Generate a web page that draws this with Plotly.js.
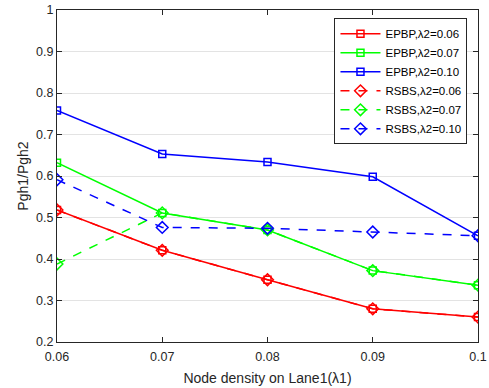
<!DOCTYPE html>
<html><head><meta charset="utf-8">
<script src="https://cdn.plot.ly/plotly-3.0.1.min.js"></script>
<style>html,body{margin:0;padding:0;background:#fff}#c{width:489px;height:388px}</style>
</head><body><div id="c"></div>
<script>
const xVals = [0.06, 0.07, 0.08, 0.09, 0.10];
const epbp006 = [0.518, 0.421, 0.350, 0.280, 0.260];
const epbp007 = [0.632, 0.511, 0.470, 0.372, 0.337];
const epbp010 = [0.758, 0.653, 0.634, 0.598, 0.456];
const rsbs006 = [0.518, 0.421, 0.350, 0.280, 0.260];
const rsbs007 = [0.388, 0.511, 0.470, 0.372, 0.337];
const rsbs010 = [0.591, 0.476, 0.474, 0.465, 0.456];
const names = ['EPBP,\u03bb2=0.06','EPBP,\u03bb2=0.07','EPBP,\u03bb2=0.10','RSBS,\u03bb2=0.06','RSBS,\u03bb2=0.07','RSBS,\u03bb2=0.10'];
const xTicks = [0.06, 0.07, 0.08, 0.09, 0.1];
const xTickText = ['0.06','0.07','0.08','0.09','0.1'];
const yTicks = [0.2,0.3,0.4,0.5,0.6,0.7,0.8,0.9,1];
const yTickText = ['0.2','0.3','0.4','0.5','0.6','0.7','0.8','0.9','1'];

const cols = ['#ff0000','#00ff00','#0000ff'];
const series = [epbp006, epbp007, epbp010, rsbs006, rsbs007, rsbs010];
const traces = series.map((y,i)=>({
  x: xVals, y: y, name: names[i], type:'scatter', mode:'lines+markers',
  line:{color: cols[i%3], width:1.5, dash: i<3 ? 'solid' : 'dash'},
  marker:{symbol: i<3 ? 'square-open' : 'diamond-open', size: i<3 ? 7 : 9, color: cols[i%3], line:{width:1.5, color: cols[i%3]}}
}));

const layout = {
  width:489, height:388,
  margin:{l:57, r:11, t:10, b:46},
  paper_bgcolor:'#fff', plot_bgcolor:'#fff',
  font:{family:'Liberation Sans, Arial, sans-serif', size:12.5, color:'#262626'},
  showlegend:true,
  legend:{x:0.975, y:0.975, xanchor:'right', yanchor:'top', bgcolor:'#fff', bordercolor:'#262626', borderwidth:1,
    font:{size:11.5, color:'#000'}, tracegroupgap:0, itemwidth:40},
  xaxis:{range:[0.06,0.1], tickvals:xTicks, ticktext:xTickText, showgrid:false, zeroline:false,
    showline:true, linecolor:'#262626', linewidth:1, mirror:'ticks', ticks:'inside', ticklen:5, tickcolor:'#262626',
    ticklabelstandoff:3,
    title:{text:'Node density on Lane1(\u03bb1)', font:{size:14}, standoff:10}},
  yaxis:{range:[0.2,1], tickvals:yTicks, ticktext:yTickText, showgrid:true, gridcolor:'#e3e3e3', zeroline:false,
    showline:true, linecolor:'#262626', linewidth:1, mirror:'ticks', ticks:'inside', ticklen:5, tickcolor:'#262626',
    title:{text:'Pgh1/Pgh2', font:{size:14}, standoff:4}}
};
Plotly.newPlot('c', traces, layout, {displayModeBar:false, staticPlot:true});
</script></body></html>
